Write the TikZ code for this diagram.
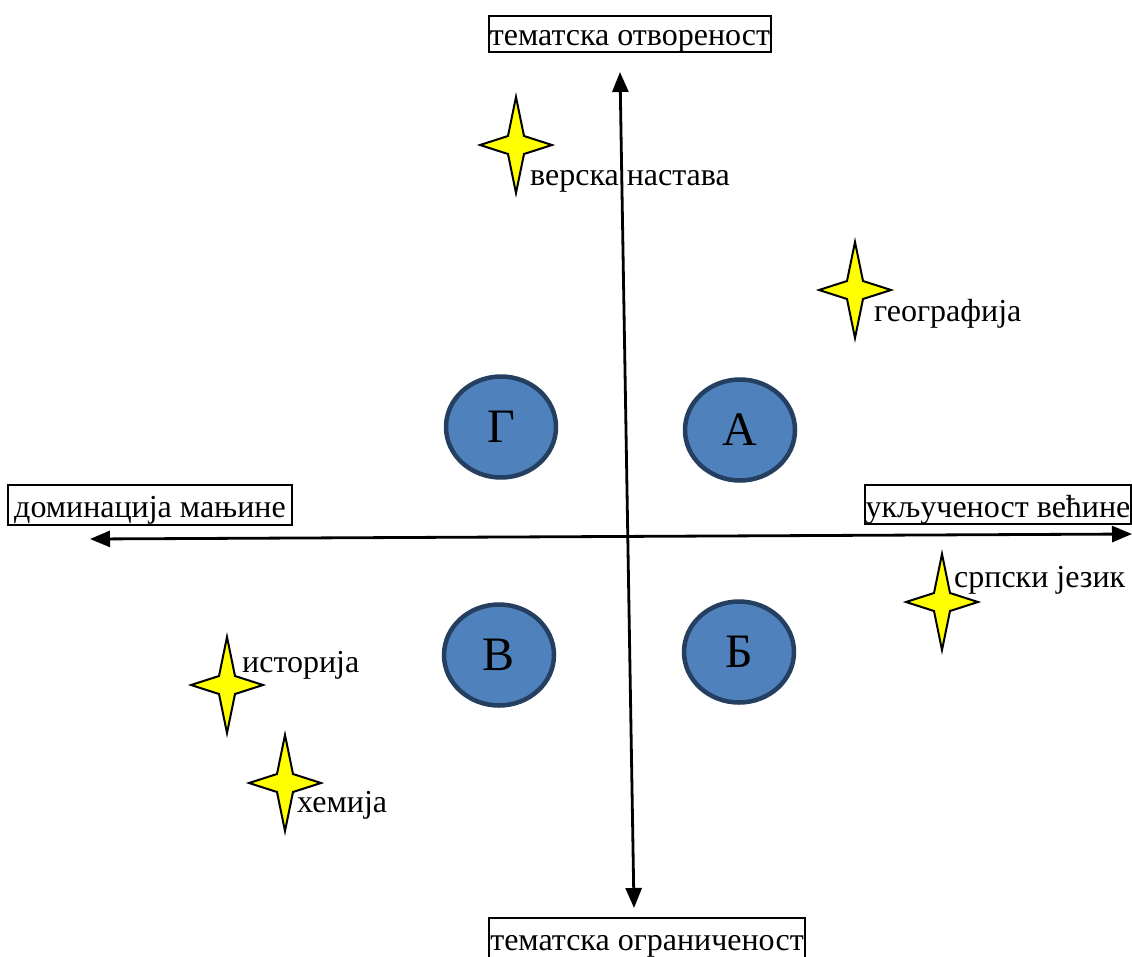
\documentclass[tikz,border=0pt]{standalone}
\usepackage{fontspec}
\setmainfont{Liberation Serif}
\usetikzlibrary{arrows.meta,shapes.geometric}
\definecolor{circfill}{HTML}{4F81BD}
\definecolor{circline}{HTML}{243F60}
\definecolor{staryellow}{HTML}{FFFF00}
\tikzset{
  lbl/.style={font=\fontsize{32}{38}\selectfont, inner sep=0pt, anchor=base west},
  boxlbl/.style={draw, line width=2pt, font=\fontsize{32}{38}\selectfont, inner sep=0pt, align=center, anchor=base},
  quad/.style={ellipse, draw=circline, fill=circfill, line width=4.5pt, minimum width=110pt, minimum height=101pt, inner sep=0pt, font=\fontsize{48}{56}\selectfont},
  axis/.style={line width=2.8pt, {Triangle[length=20pt,width=16pt]}-{Triangle[length=20pt,width=16pt]}},
  fourstar/.pic={\draw[fill=staryellow, line width=2pt, line join=miter]
     (0,-48) -- (8,-9) -- (36,0) -- (8,9) -- (0,48) -- (-8,9) -- (-36,0) -- (-8,-9) -- cycle;}
}
\begin{document}
\begin{tikzpicture}[x=1pt,y=-1pt]
\useasboundingbox (0,0) rectangle (1132,956);
% axis labels
\node[boxlbl, minimum width=282pt, text height=29pt, text depth=7pt] (top) at (630,45) {тематска отвореност};
\node[boxlbl, minimum width=284pt, text height=32pt, text depth=8pt] (left) at (150,517) {доминација мањине};
\node[boxlbl, minimum width=266pt, text height=32pt, text depth=7pt] (right) at (998,517) {укљученост већине};
\node[boxlbl, minimum width=316pt, text height=32pt, text depth=10pt] (bottom) at (647,950) {тематска ограниченост};
% axes
\coordinate (vtop) at (620,72);
\coordinate (vbot) at (634,908);
\coordinate (hleft) at (90,539);
\coordinate (hright) at (1132,534);
\draw[axis] (vbot) -- (vtop);
\draw[axis] (hleft) -- (hright);
% quadrants
\node[quad] (G) at (501,427) {Г};
\node[quad] (A) at (740,430) {А};
\node[quad] (V) at (499,655) {В};
\node[quad] (B) at (739,652) {Б};
% stars
\pic (s1) at (516,145) {fourstar};
\node[lbl] (l1) at (530,185) {верска настава};
\pic (s2) at (855,290) {fourstar};
\node[lbl] (l2) at (874,321) {географија};
\pic (s3) at (942,602) {fourstar};
\node[lbl] (l3) at (954,587) {српски језик};
\pic (s4) at (227,685) {fourstar};
\node[lbl] (l4) at (242,672) {историја};
\pic (s5) at (285,783) {fourstar};
\node[lbl] (l5) at (297,812) {хемија};
\end{tikzpicture}
\end{document}
